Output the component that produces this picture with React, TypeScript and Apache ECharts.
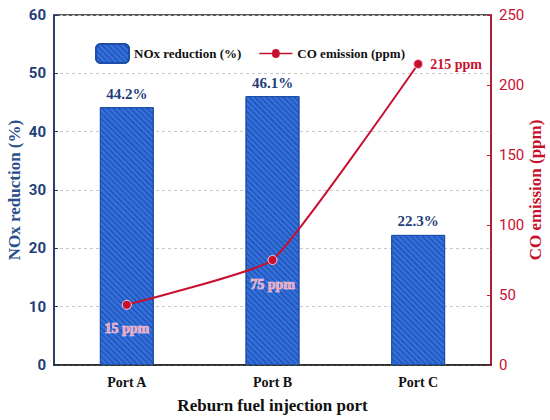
import React, { useEffect, useRef } from "react";
import * as echarts from "echarts";

const categories = ["Port A", "Port B", "Port C"];
const noxReduction = [44.2, 46.1, 22.3];
const coEmission = [43, 75, 215];
const coLabels = ["15 ppm", "75 ppm", "215 ppm"];
const leftTicks = { min: 0, max: 60, interval: 10 };
const rightTicks = { min: 0, max: 250, interval: 50 };

const SERIF = "Liberation Serif";
const NARROW = "Roboto";
const BLUE_TXT = "#1f3f7a";
const RED = "#c8102e";
const LINE_ICON =
  "path://M0 8.7H12.7A3.8 3.8 0 0 1 20.3 8.7H33V10.3H20.3A3.8 3.8 0 0 1 12.7 10.3H0Z";

export default function App() {
  const ref = useRef<HTMLDivElement>(null);
  useEffect(() => {
    if (!ref.current) return;
    const chart = echarts.init(ref.current, undefined, { renderer: "svg" });
    const legendText = { fontFamily: SERIF, fontWeight: "bold", fontSize: 13, color: "#111" };
    const option: any = {
      animation: false,
      backgroundColor: "#ffffff",
      grid: {
        left: 54,
        right: 59,
        top: 15,
        bottom: 55,
        outerBoundsMode: "none",
        containLabel: false,
        show: true,
        borderColor: "#222",
        borderWidth: 1.5,
      },
      legend: {
        left: 90,
        top: 38,
        itemGap: 18,
        itemWidth: 33,
        itemHeight: 19,
        textStyle: legendText,
        data: [
          { name: "NOx reduction (%)" },
          {
            name: "CO emission (ppm)",
            icon: LINE_ICON,
            itemStyle: { color: RED, borderColor: RED, borderWidth: 0 },
          },
        ],
      },
      xAxis: {
        type: "category",
        data: categories,
        name: "Reburn fuel injection port",
        nameLocation: "middle",
        nameGap: 32,
        nameMoveOverlap: false,
        nameTextStyle: { fontFamily: SERIF, fontWeight: "bold", fontSize: 17, color: "#111" },
        axisLine: { lineStyle: { color: "#222", width: 1.5 } },
        axisTick: { show: false },
        axisLabel: { fontFamily: SERIF, fontWeight: "bold", fontSize: 14, color: "#111", margin: 10 },
      },
      yAxis: [
        {
          type: "value",
          min: leftTicks.min,
          max: leftTicks.max,
          interval: leftTicks.interval,
          name: "NOx reduction (%)",
          nameLocation: "middle",
          nameGap: 31,
          nameRotate: 90,
          nameMoveOverlap: false,
          nameTextStyle: { fontFamily: SERIF, fontWeight: "bold", fontSize: 17, color: "#2a4f8c" },
          axisLine: { show: true, lineStyle: { color: "#1f3864", width: 1.5 } },
          axisTick: { show: true, inside: true, length: 4, lineStyle: { color: "#1f3864" } },
          axisLabel: { fontFamily: NARROW, fontWeight: "bold", fontSize: 15, color: BLUE_TXT, margin: 8 },
          splitLine: { show: true, lineStyle: { color: "#c8c8c8", type: [3, 3], width: 1 } },
        },
        {
          type: "value",
          min: rightTicks.min,
          max: rightTicks.max,
          interval: rightTicks.interval,
          name: "CO emission (ppm)",
          nameLocation: "middle",
          nameGap: 36,
          nameRotate: 90,
          nameMoveOverlap: false,
          nameTextStyle: { fontFamily: SERIF, fontWeight: "bold", fontSize: 17, color: RED },
          axisLine: { show: true, lineStyle: { color: RED, width: 1.5 } },
          axisTick: { show: true, inside: true, length: 4, lineStyle: { color: RED } },
          axisLabel: { fontFamily: NARROW, fontSize: 15, color: RED, margin: 8 },
          splitLine: { show: false },
        },
      ],
      series: [
        {
          name: "NOx reduction (%)",
          type: "bar",
          yAxisIndex: 0,
          data: noxReduction,
          barWidth: "37%",
          itemStyle: {
            color: "#3170dc",
            borderColor: "#1e4fa8",
            borderWidth: 1,
            decal: {
              symbol: "rect",
              symbolSize: 1,
              dashArrayX: [1, 0],
              dashArrayY: [1, 2.2],
              rotation: Math.PI / 4,
              color: "rgba(15,35,110,0.5)",
            },
          },
          label: {
            show: true,
            position: "top",
            distance: 6,
            formatter: (p: any) => p.value.toFixed(1) + "%",
            fontFamily: SERIF,
            fontWeight: "bold",
            fontSize: 15,
            color: BLUE_TXT,
          },
        },
        {
          name: "CO emission (ppm)",
          type: "line",
          yAxisIndex: 1,
          smooth: 0.12,
          symbol: "circle",
          symbolSize: 9,
          lineStyle: { color: RED, width: 2 },
          itemStyle: { color: RED, borderColor: "#ffd0dc", borderWidth: 1 },
          data: coEmission.map((v, i) => ({
            value: v,
            label: {
              show: true,
              position: i === 2 ? "right" : "bottom",
              distance: i === 2 ? 7 : 12,
              formatter: coLabels[i],
              fontFamily: SERIF,
              fontWeight: "bold",
              fontSize: 14,
              color: i === 2 ? RED : "#f7a6be",
              textBorderColor: i === 2 ? "transparent" : "#ffe8ee",
              textBorderWidth: i === 2 ? 0 : 0.6,
            },
          })),
        },
      ],
    };
    chart.setOption(option);
    return () => chart.dispose();
  }, []);
  return (
    <div
      ref={ref}
      style={{ position: "fixed", left: 0, top: 0, width: 550, height: 420 }}
    />
  );
}
